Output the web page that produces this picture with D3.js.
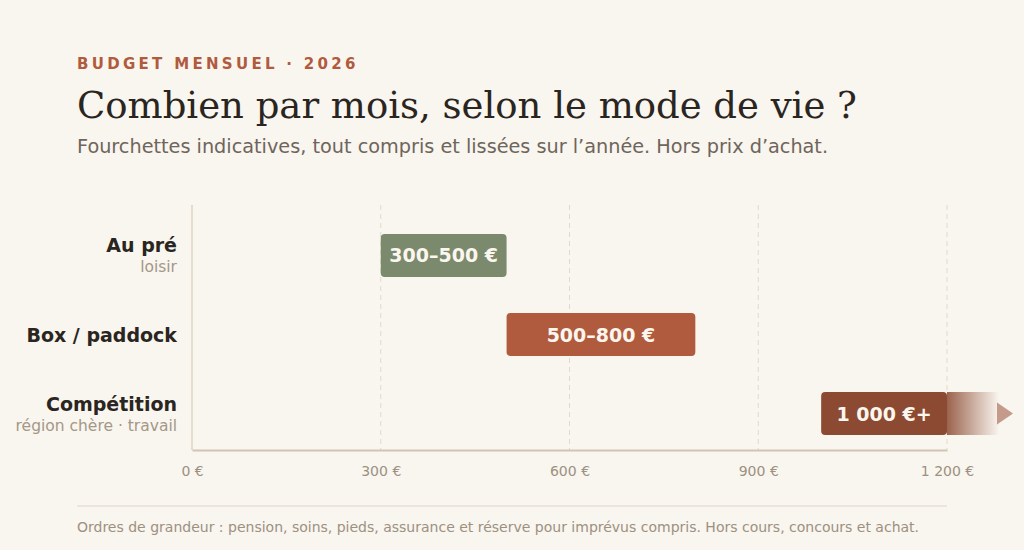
<!DOCTYPE html>
<html>
<head>
<meta charset="utf-8">
<script src="https://cdn.jsdelivr.net/npm/d3@7"></script>
<style>
  html, body { margin: 0; padding: 0; background: #f9f5ef; }
  svg { display: block; font-family: "DejaVu Sans", sans-serif; }
</style>
</head>
<body>
<script>
// data
var categories = ["Au pré", "Box / paddock", "Compétition"];
var subLabels = ["loisir", "", "région chère · travail"];
var lowValues = [300, 500, 1000];
var highValues = [500, 800, 1200];
var openEnded = [false, false, true];
var barLabels = ["300–500 €", "500–800 €", "1 000 €+"];
var barColors = ["#7b8a6c", "#b05b3d", "#8b4a31"];
var tickValues = [0, 300, 600, 900, 1200];
var tickLabels = ["0 €", "300 €", "600 €", "900 €", "1 200 €"];

var width = 1024, height = 550;
var plotTop = 205, plotBottom = 450;

var svg = d3.select("body").append("svg")
  .attr("width", width)
  .attr("height", height);

var x = d3.scaleLinear().domain([0, 1200]).range([192, 947]);
var y = d3.scaleBand().domain(categories).range([194.5, 474.5]).paddingInner(0.456).paddingOuter(0.5);

// header
svg.append("text")
  .attr("x", 77).attr("y", 69)
  .attr("fill", "#b05b3d")
  .attr("font-size", 15).attr("font-weight", "bold")
  .attr("letter-spacing", 3.3)
  .text("BUDGET MENSUEL · 2026");

svg.append("text")
  .attr("x", 77).attr("y", 118)
  .attr("fill", "#2a2520")
  .attr("font-family", "'DejaVu Serif', serif")
  .attr("font-size", 37)
  .text("Combien par mois, selon le mode de vie ?");

svg.append("text")
  .attr("x", 77).attr("y", 153)
  .attr("fill", "#6e655b")
  .attr("font-size", 19.25)
  .text("Fourchettes indicatives, tout compris et lissées sur l’année. Hors prix d’achat.");

// grid
svg.append("g").selectAll("line")
  .data(tickValues.slice(1))
  .enter().append("line")
  .attr("x1", function(d){ return x(d) }).attr("x2", function(d){ return x(d) })
  .attr("y1", plotTop).attr("y2", plotBottom)
  .attr("stroke", "#e2d9cc").attr("stroke-width", 1)
  .attr("stroke-dasharray", "5,4");

// axes lines
svg.append("line")
  .attr("x1", x(0)).attr("x2", x(0))
  .attr("y1", plotTop).attr("y2", plotBottom)
  .attr("stroke", "#ddd3c4").attr("stroke-width", 1.5);

var xAxis = d3.axisBottom(x)
  .tickValues(tickValues)
  .tickFormat(function(d, i){ return tickLabels[i] })
  .tickSize(0).tickPadding(16);

var ax = svg.append("g")
  .attr("transform", "translate(0," + plotBottom + ")")
  .call(xAxis);
ax.select(".domain").attr("stroke", "#d2c6b3").attr("stroke-width", 2);
ax.selectAll("text")
  .attr("fill", "#9c9181")
  .attr("font-size", 14)
  .attr("font-family", "'DejaVu Sans', sans-serif");

// gradient for open-ended bar
var defs = svg.append("defs");
var grad = defs.append("linearGradient").attr("id", "fade").attr("x1", "0").attr("x2", "1");
grad.append("stop").attr("offset", "0%").attr("stop-color", barColors[2]).attr("stop-opacity", 0.85);
grad.append("stop").attr("offset", "100%").attr("stop-color", barColors[2]).attr("stop-opacity", 0);

// bars
var rows = svg.append("g").selectAll("g")
  .data(categories)
  .enter().append("g");

rows.each(function(c, i) {
  var g = d3.select(this);
  var y0 = y(c), bh = y.bandwidth();
  if (openEnded[i]) {
    g.append("rect")
      .attr("x", x(highValues[i])).attr("y", y0)
      .attr("width", 52).attr("height", bh)
      .attr("fill", "url(#fade)");
    var tx = x(highValues[i]) + 50, cy = y0 + bh / 2;
    g.append("path")
      .attr("d", "M" + tx + "," + (cy - 11) + "L" + (tx + 16) + "," + cy + "L" + tx + "," + (cy + 11) + "Z")
      .attr("fill", "#c49a8a");
  }
  g.append("rect")
    .attr("x", x(lowValues[i])).attr("y", y0)
    .attr("width", x(highValues[i]) - x(lowValues[i]))
    .attr("height", bh)
    .attr("rx", 4)
    .attr("fill", barColors[i]);
  g.append("text")
    .attr("x", (x(lowValues[i]) + x(highValues[i])) / 2)
    .attr("y", y0 + bh / 2 + 7)
    .attr("text-anchor", "middle")
    .attr("fill", "#fbf6ee")
    .attr("font-size", 19).attr("font-weight", "bold")
    .text(barLabels[i]);

  // row labels
  var cy2 = y0 + bh / 2;
  if (subLabels[i]) {
    g.append("text")
      .attr("x", 177).attr("y", cy2 - 3)
      .attr("text-anchor", "end")
      .attr("fill", "#2a2520").attr("font-size", 19).attr("font-weight", "bold")
      .text(c);
    g.append("text")
      .attr("x", 177).attr("y", cy2 + 17)
      .attr("text-anchor", "end")
      .attr("fill", "#a49886").attr("font-size", 15.5)
      .text(subLabels[i]);
  } else {
    g.append("text")
      .attr("x", 177).attr("y", cy2 + 7)
      .attr("text-anchor", "end")
      .attr("fill", "#2a2520").attr("font-size", 19).attr("font-weight", "bold")
      .text(c);
  }
});

// footer
svg.append("line")
  .attr("x1", 77).attr("x2", 947)
  .attr("y1", 506).attr("y2", 506)
  .attr("stroke", "#ddd5ca").attr("stroke-width", 1.2);

svg.append("text")
  .attr("x", 77).attr("y", 532)
  .attr("fill", "#9c9181")
  .attr("font-size", 14)
  .text("Ordres de grandeur : pension, soins, pieds, assurance et réserve pour imprévus compris. Hors cours, concours et achat.");
</script>
</body>
</html>
